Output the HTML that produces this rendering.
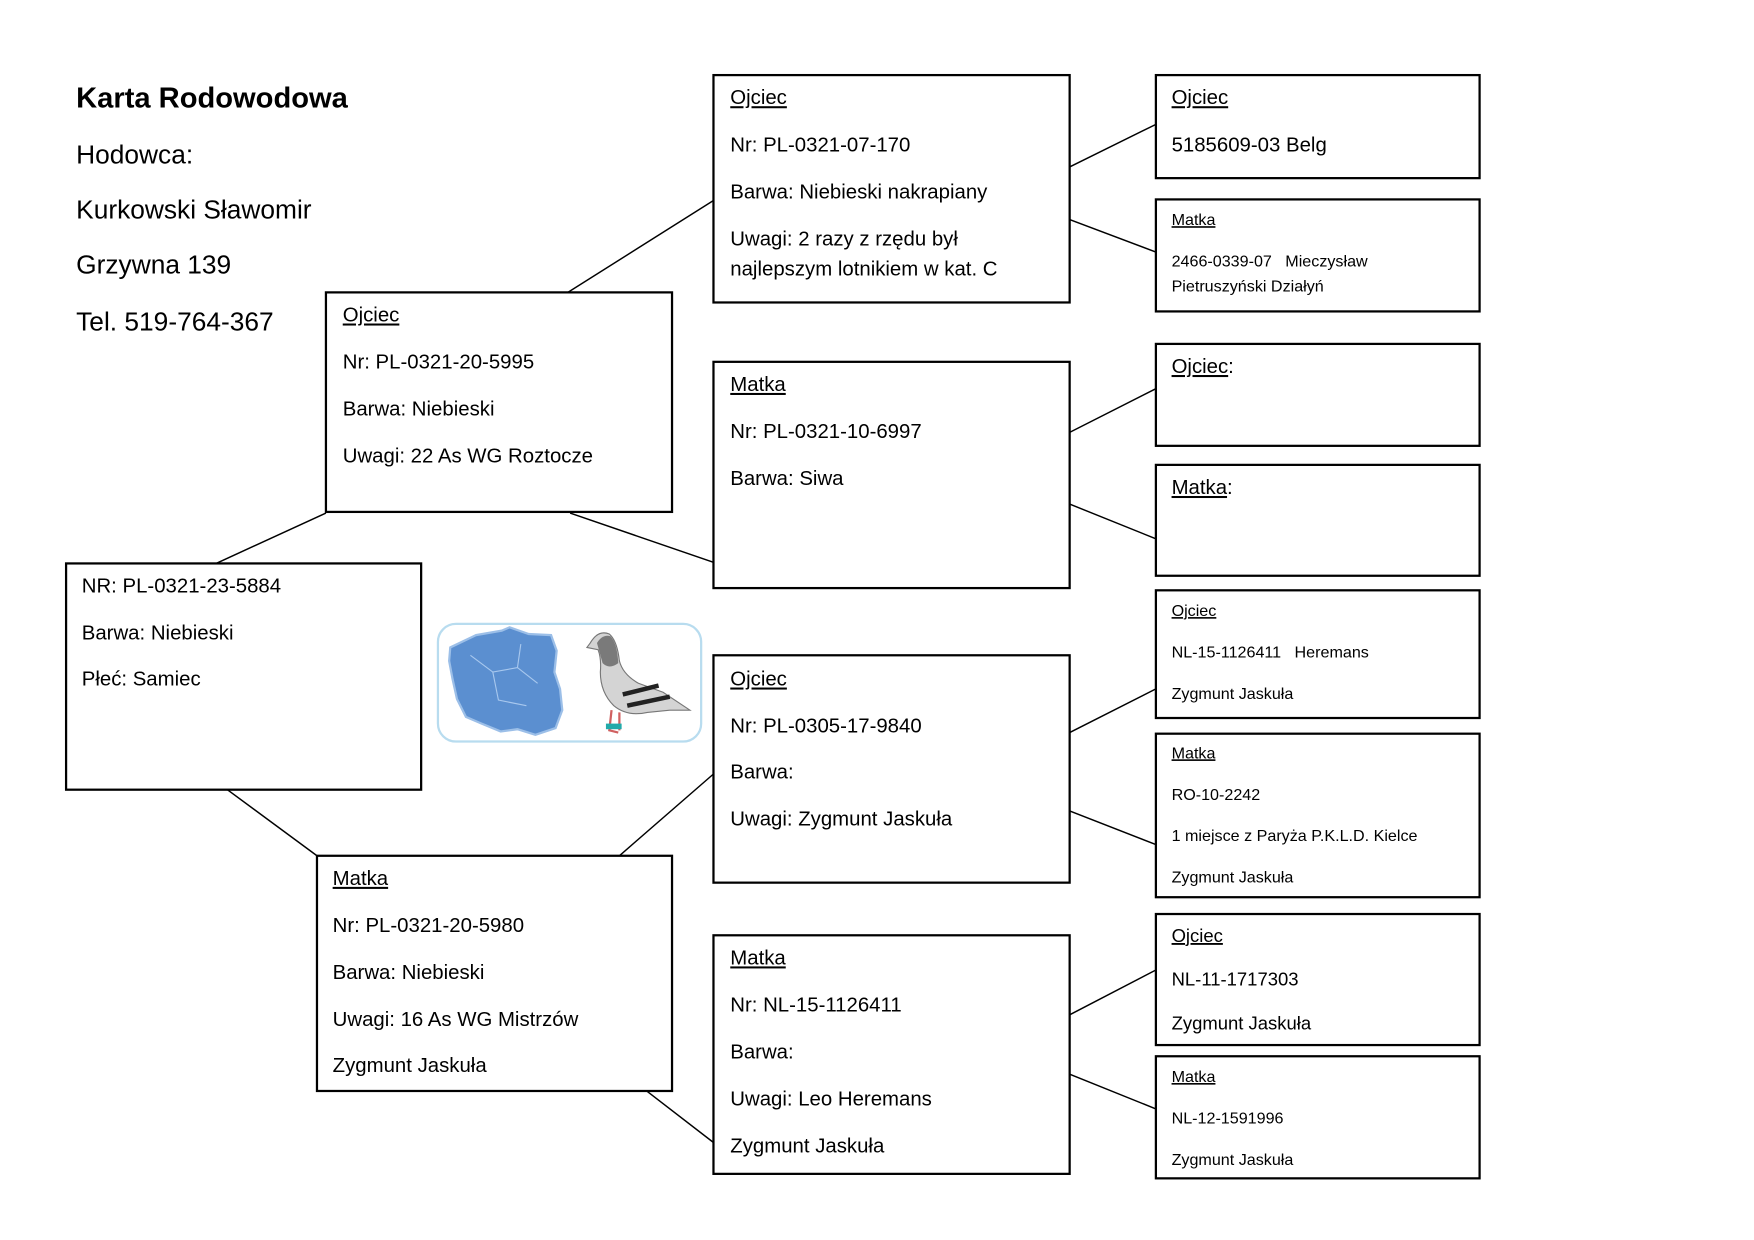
<!DOCTYPE html>
<html><head><meta charset="utf-8"><style>
html,body{margin:0;padding:0;background:#fff;width:1754px;height:1240px;overflow:hidden}
svg{display:block}
text{font-family:"Liberation Sans","DejaVu Sans",sans-serif;fill:#000}
.b{font-size:18.2px}
.m{font-size:16.5px}
.s{font-size:14.4px}
.h{font-size:23.5px}
.u{text-decoration:underline}
rect.bx{fill:#fff;stroke:#000;stroke-width:2}
line{stroke:#000;stroke-width:1.3}
</style></head><body>
<svg width="1754" height="1240" viewBox="0 0 1566 1107" xmlns="http://www.w3.org/2000/svg">
<line x1="193" y1="503" x2="291" y2="458"/>
<line x1="203" y1="705" x2="283" y2="764"/>
<line x1="507" y1="261" x2="637" y2="179"/>
<line x1="509" y1="458" x2="637" y2="502"/>
<line x1="553" y1="764" x2="637" y2="691"/>
<line x1="567" y1="966" x2="637" y2="1020"/>
<line x1="955" y1="149" x2="1032" y2="111"/>
<line x1="955" y1="196" x2="1032" y2="225"/>
<line x1="955" y1="386" x2="1032" y2="347"/>
<line x1="955" y1="450" x2="1032" y2="481"/>
<line x1="955" y1="654" x2="1032" y2="615"/>
<line x1="955" y1="724" x2="1032" y2="754"/>
<line x1="955" y1="906" x2="1032" y2="866"/>
<line x1="955" y1="959" x2="1032" y2="990"/>

<text x="68" y="96" style="font-size:26px;font-weight:bold">Karta Rodowodowa</text>
<text class="h" x="68" y="146">Hodowca:</text>
<text class="h" x="68" y="195">Kurkowski Sławomir</text>
<text class="h" x="68" y="244">Grzywna 139</text>
<text class="h" x="68" y="295">Tel. 519-764-367</text>

<rect class="bx" x="59" y="503" width="317" height="202"/>
<text class="b" x="73" y="529">NR: PL-0321-23-5884</text>
<text class="b" x="73" y="571">Barwa: Niebieski</text>
<text class="b" x="73" y="612">Płeć: Samiec</text>

<rect class="bx" x="291" y="261" width="309" height="196"/>
<text class="b u" x="306" y="287">Ojciec</text>
<text class="b" x="306" y="329">Nr: PL-0321-20-5995</text>
<text class="b" x="306" y="371">Barwa: Niebieski</text>
<text class="b" x="306" y="413">Uwagi: 22 As WG Roztocze</text>

<rect class="bx" x="283" y="764" width="317" height="210"/>
<text class="b u" x="297" y="790">Matka</text>
<text class="b" x="297" y="832">Nr: PL-0321-20-5980</text>
<text class="b" x="297" y="874">Barwa: Niebieski</text>
<text class="b" x="297" y="916">Uwagi: 16 As WG Mistrzów</text>
<text class="b" x="297" y="957">Zygmunt Jaskuła</text>

<rect class="bx" x="637" y="67" width="318" height="203"/>
<text class="b u" x="652" y="93">Ojciec</text>
<text class="b" x="652" y="135">Nr: PL-0321-07-170</text>
<text class="b" x="652" y="177">Barwa: Niebieski nakrapiany</text>
<text class="b" x="652" y="219">Uwagi: 2 razy z rzędu był</text>
<text class="b" x="652" y="246">najlepszym lotnikiem w kat. C</text>

<rect class="bx" x="637" y="323" width="318" height="202"/>
<text class="b u" x="652" y="349">Matka</text>
<text class="b" x="652" y="391">Nr: PL-0321-10-6997</text>
<text class="b" x="652" y="433">Barwa: Siwa</text>

<rect class="bx" x="637" y="585" width="318" height="203"/>
<text class="b u" x="652" y="612">Ojciec</text>
<text class="b" x="652" y="654">Nr: PL-0305-17-9840</text>
<text class="b" x="652" y="695">Barwa:</text>
<text class="b" x="652" y="737">Uwagi: Zygmunt Jaskuła</text>

<rect class="bx" x="637" y="835" width="318" height="213"/>
<text class="b u" x="652" y="861">Matka</text>
<text class="b" x="652" y="903">Nr: NL-15-1126411</text>
<text class="b" x="652" y="945">Barwa:</text>
<text class="b" x="652" y="987">Uwagi: Leo Heremans</text>
<text class="b" x="652" y="1029">Zygmunt Jaskuła</text>

<rect class="bx" x="1032" y="67" width="289" height="92"/>
<text class="b u" x="1046" y="93">Ojciec</text>
<text class="b" x="1046" y="135">5185609-03 Belg</text>

<rect class="bx" x="1032" y="178" width="289" height="100"/>
<text class="s u" x="1046" y="201">Matka</text>
<text class="s" x="1046" y="238">2466-0339-07 &#160;&#160;Mieczysław</text>
<text class="s" x="1046" y="260">Pietruszyński Działyń</text>

<rect class="bx" x="1032" y="307" width="289" height="91"/>
<text class="b" x="1046" y="333"><tspan class="u">Ojciec</tspan>:</text>

<rect class="bx" x="1032" y="415" width="289" height="99"/>
<text class="b" x="1046" y="441"><tspan class="u">Matka</tspan>:</text>

<rect class="bx" x="1032" y="527" width="289" height="114"/>
<text class="s u" x="1046" y="550">Ojciec</text>
<text class="s" x="1046" y="587">NL-15-1126411 &#160;&#160;Heremans</text>
<text class="s" x="1046" y="624">Zygmunt Jaskuła</text>

<rect class="bx" x="1032" y="655" width="289" height="146"/>
<text class="s u" x="1046" y="677">Matka</text>
<text class="s" x="1046" y="714">RO-10-2242</text>
<text class="s" x="1046" y="751">1 miejsce z Paryża P.K.L.D. Kielce</text>
<text class="s" x="1046" y="788">Zygmunt Jaskuła</text>

<rect class="bx" x="1032" y="816" width="289" height="117"/>
<text class="m u" x="1046" y="841">Ojciec</text>
<text class="m" x="1046" y="880">NL-11-1717303</text>
<text class="m" x="1046" y="919">Zygmunt Jaskuła</text>

<rect class="bx" x="1032" y="943" width="289" height="109"/>
<text class="s u" x="1046" y="966">Matka</text>
<text class="s" x="1046" y="1003">NL-12-1591996</text>
<text class="s" x="1046" y="1040">Zygmunt Jaskuła</text>

<rect x="391" y="557" width="235" height="105" rx="16" fill="#fff" stroke="#b8dcef" stroke-width="2"/>
<path d="M402,578 L425,567 L448,563 L455,560 L472,566 L492,567 L497,581 L495,600 L500,615 L502,634 L496,650 L478,656 L462,651 L447,653 L430,646 L416,640 L408,624 L404,606 L401,590 Z" fill="#5b8fd0" stroke="#9cbfe8" stroke-width="2"/>
<path d="M420,585 L440,600 L462,596 L480,610 M440,600 L445,625 L470,630 M462,596 L465,575" fill="none" stroke="#a8c8ee" stroke-width="1"/>
<path d="M527,574 Q534,562 544,566 Q551,572 553,590 Q556,602 570,610 L592,618 L616,634 L598,634 L578,636 Q560,640 548,630 Q536,618 536,600 Q537,588 534,580 L524,578 Z" fill="#d4d4d4" stroke="#777" stroke-width="1"/>
<path d="M533,574 Q538,566 545,568 Q551,574 552,592 Q544,598 538,592 Z" fill="#7a7a7a"/>
<path d="M556,620 L588,612 M560,630 L598,622" stroke="#222" stroke-width="4"/>
<path d="M546,634 L544,652 L552,654 M553,636 L553,652" stroke="#d06060" stroke-width="2" fill="none"/>
<rect x="541" y="646" width="14" height="5" fill="#2aa"/>
</svg>
</body></html>
